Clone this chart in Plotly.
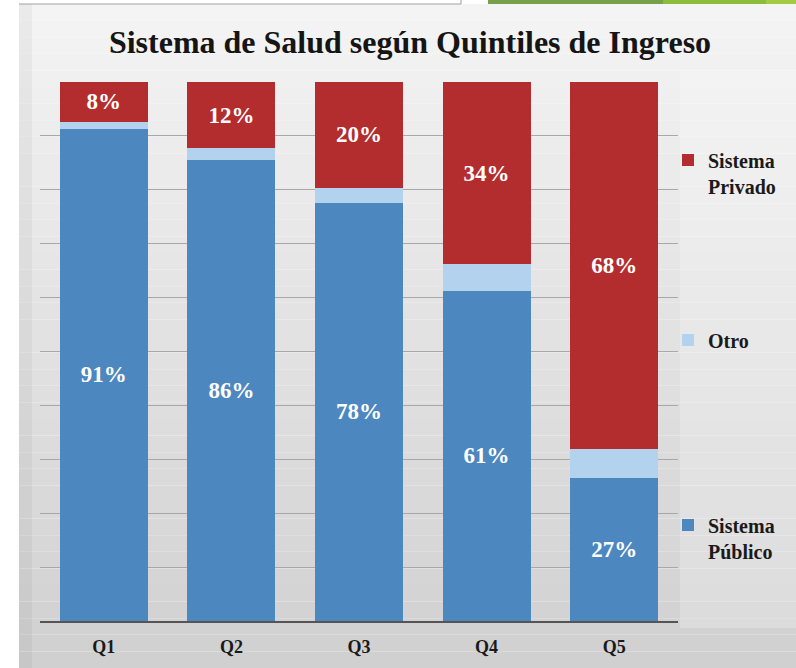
import plotly.graph_objects as go

categories = ["Q1", "Q2", "Q3", "Q4", "Q5"]
publico = [91.3, 85.6, 77.6, 61.3, 26.6]
otro = [1.2, 2.1, 2.8, 4.9, 5.4]
privado = [7.6, 12.3, 19.6, 33.8, 68.0]

W, H = 796, 668
ML, MR, MT, MB = 40, 118, 82, 47
PW, PH = W - ML - MR, H - MT - MB

def xp(px):
    return (px - ML) / PW

def yp(py):
    return (H - MB - py) / PH

SERIF = "Liberation Serif"
BLUE = "#4d87c0"
LIGHT = "#b3d2ee"
RED = "#b32d2e"

fig = go.Figure()
fig.add_trace(go.Bar(
    x=categories, y=publico, name="Sistema<br>Público",
    marker=dict(color=BLUE, line=dict(width=0)),
    texttemplate="%{y:.0f}%", textposition="inside", insidetextanchor="middle",
    textfont=dict(family=SERIF, size=23, color="white", weight="bold"),
    legend="legend3", hoverinfo="skip",
))
fig.add_trace(go.Bar(
    x=categories, y=otro, name="Otro",
    marker=dict(color=LIGHT, line=dict(width=0)),
    texttemplate="", legend="legend2", hoverinfo="skip",
))
fig.add_trace(go.Bar(
    x=categories, y=privado, name="Sistema<br>Privado",
    marker=dict(color=RED, line=dict(width=0)),
    texttemplate="%{y:.0f}%", textposition="inside", insidetextanchor="middle",
    textfont=dict(family=SERIF, size=23, color="white", weight="bold"),
    legend="legend", hoverinfo="skip",
))

# background (slide-like gradient)
shapes = []
top_c = (244, 244, 244)
bot_c = (208, 208, 208)
y0, y1 = 4, H
n = 40
for i in range(n):
    a = y0 + (y1 - y0) * i / n
    b = y0 + (y1 - y0) * (i + 1) / n
    t = (i + 0.5) / n
    c = tuple(int(round(top_c[k] + (bot_c[k] - top_c[k]) * t)) for k in range(3))
    shapes.append(dict(type="rect", xref="paper", yref="paper", layer="below",
                       x0=xp(19), x1=xp(W), y0=yp(b), y1=yp(a),
                       fillcolor="rgb(%d,%d,%d)" % c, line=dict(width=0)))
# legend panel lighter
shapes.append(dict(type="rect", xref="paper", yref="paper", layer="below",
                   x0=xp(680), x1=xp(W), y0=yp(628), y1=yp(70),
                   fillcolor="rgba(255,255,255,0.22)", line=dict(width=0)))
# left edge shading
shapes.append(dict(type="rect", xref="paper", yref="paper", layer="below",
                   x0=xp(19), x1=xp(32), y0=yp(H), y1=yp(4),
                   fillcolor="rgba(0,0,0,0.04)", line=dict(width=0)))
# top decorations
shapes.append(dict(type="line", xref="paper", yref="paper", layer="above",
                   x0=xp(19), x1=xp(461), y0=yp(4), y1=yp(4),
                   line=dict(color="#a0a0a0", width=1)))
shapes.append(dict(type="line", xref="paper", yref="paper", layer="above",
                   x0=xp(461), x1=xp(461), y0=yp(0), y1=yp(4),
                   line=dict(color="#a0a0a0", width=1)))
shapes.append(dict(type="rect", xref="paper", yref="paper", layer="above",
                   x0=xp(488), x1=xp(663), y0=yp(4), y1=yp(0),
                   fillcolor="#77a04a", line=dict(width=0)))
shapes.append(dict(type="rect", xref="paper", yref="paper", layer="above",
                   x0=xp(663), x1=xp(766), y0=yp(4), y1=yp(0),
                   fillcolor="#8cbc3c", line=dict(width=0)))
shapes.append(dict(type="rect", xref="paper", yref="paper", layer="above",
                   x0=xp(766), x1=xp(W), y0=yp(4), y1=yp(0),
                   fillcolor="#a3cc44", line=dict(width=0)))

legend_common = dict(
    xref="container", yref="container", xanchor="left", yanchor="middle",
    font=dict(family=SERIF, size=20, color="#1a1a1a", weight="bold"),
    bgcolor="rgba(0,0,0,0)", borderwidth=0, valign="top",
)

fig.update_layout(
    width=W, height=H,
    margin=dict(l=ML, r=MR, t=MT, b=MB, autoexpand=False),
    barmode="stack", bargap=0.31,
    paper_bgcolor="white", plot_bgcolor="rgba(0,0,0,0)",
    title=dict(text="Sistema de Salud según Quintiles de Ingreso",
               x=410 / W, xanchor="center", xref="container",
               y=1 - 42 / H, yanchor="middle", yref="container",
               font=dict(family=SERIF, size=32, color="#151515", weight="bold")),
    xaxis=dict(showline=True, linecolor="#555555", linewidth=2,
               tickfont=dict(family=SERIF, size=18, color="#1a1a1a", weight="bold"),
               ticks="", showgrid=False, ticklabelstandoff=8),
    yaxis=dict(range=[0, 100], tickvals=[10, 20, 30, 40, 50, 60, 70, 80, 90],
               showticklabels=False, gridcolor="#a8a8a8", gridwidth=1,
               zeroline=False, showline=False, ticks=""),
    showlegend=True,
    legend=dict(x=668 / W, y=1 - 173 / H, **legend_common),
    legend2=dict(x=668 / W, y=1 - 340 / H, **legend_common),
    legend3=dict(x=668 / W, y=1 - 538 / H, **legend_common),
    shapes=shapes,
)

fig.write_html("out.html", config={"displayModeBar": False},
               post_script="document.body.style.margin='0px';")
